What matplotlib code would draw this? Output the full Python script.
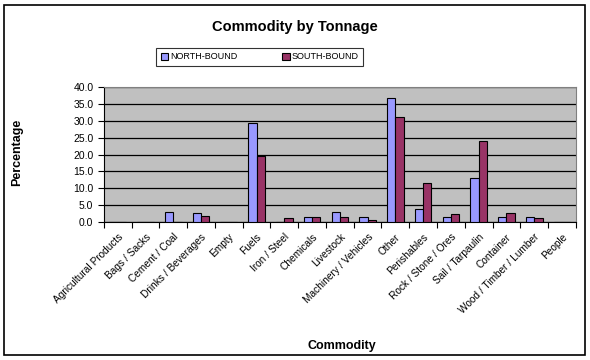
import numpy as np
import matplotlib
matplotlib.use('Agg')
import matplotlib.pyplot as plt
from matplotlib.patches import Rectangle

plt.rcParams['font.family'] = ['Liberation Sans', 'DejaVu Sans']

categories = ['Agricultural Products', 'Bags / Sacks', 'Cement / Coal', 'Drinks / Beverages',
              'Empty', 'Fuels', 'Iron / Steel', 'Chemicals', 'Livestock', 'Machinery / Vehicles',
              'Other', 'Perishables', 'Rock / Stone / Ores', 'Sail / Tarpaulin', 'Container',
              'Wood / Timber / Lumber', 'People']
north = [0.0, 0.0, 3.1, 2.8, 0.0, 29.4, 0.0, 1.6, 3.1, 1.6, 36.7, 4.0, 1.6, 13.2, 1.6, 1.6, 0.0]
south = [0.0, 0.0, 0.0, 1.9, 0.0, 19.6, 1.3, 1.6, 1.6, 0.7, 31.1, 11.7, 2.5, 23.9, 2.8, 1.3, 0.0]
yticks = [0, 5, 10, 15, 20, 25, 30, 35, 40]

fig = plt.figure(figsize=(5.9, 3.6), dpi=100)
ax = fig.add_axes([0.176, 0.383, 0.800, 0.375])

x = np.arange(len(categories))
w = 0.3
ax.bar(x - w / 2, north, w, color='#9999FF', edgecolor='black', linewidth=0.8,
       label='NORTH-BOUND', zorder=3)
ax.bar(x + w / 2, south, w, color='#993366', edgecolor='black', linewidth=0.8,
       label='SOUTH-BOUND', zorder=3)

ax.set_facecolor('#C0C0C0')
ax.set_xlim(-0.5, len(categories) - 0.5)
ax.set_ylim(0, 40)
ax.set_yticks(yticks)
ax.set_yticklabels([f'{v:.1f}' for v in yticks], fontsize=7.5)
ax.yaxis.grid(True, color='black', linewidth=0.9, zorder=1)

# ticks at category boundaries, labels centred
ax.set_xticks(np.arange(len(categories) + 1) - 0.5)
ax.set_xticklabels([])
ax.set_xticks(x, minor=True)
ax.set_xticklabels(categories, minor=True, rotation=45, ha='right',
                   rotation_mode='anchor', fontsize=7.3)
ax.tick_params(axis='x', which='minor', length=0, pad=7)
ax.tick_params(axis='both', which='major', length=4, width=0.8, direction='out')

for s in ['top', 'right']:
    ax.spines[s].set_color('#808080')
ax.spines['left'].set_color('black')
ax.spines['bottom'].set_color('black')

ax.set_ylabel('Percentage', fontsize=9, fontweight='bold')
ax.yaxis.set_label_coords(-0.172, 0.52)
ax.set_xlabel('Commodity', fontsize=9, fontweight='bold')
ax.xaxis.set_label_coords(0.504, -0.875)

fig.text(0.5, 0.925, 'Commodity by Tonnage', ha='center', va='center',
         fontsize=10.5, fontweight='bold')

leg = fig.legend(loc='center', bbox_to_anchor=(0.44, 0.842), ncol=2, fontsize=6.5,
                 frameon=True, fancybox=False, edgecolor='black', handlelength=0.8,
                 handleheight=0.8, handletextpad=0.2, columnspacing=5, borderpad=0.5)
leg.get_frame().set_linewidth(0.8)

fig.patches.append(Rectangle((0.007, 0.015), 0.985, 0.972, transform=fig.transFigure,
                             fill=False, edgecolor='black', linewidth=1.2))

fig.savefig('out.png', dpi=100)
